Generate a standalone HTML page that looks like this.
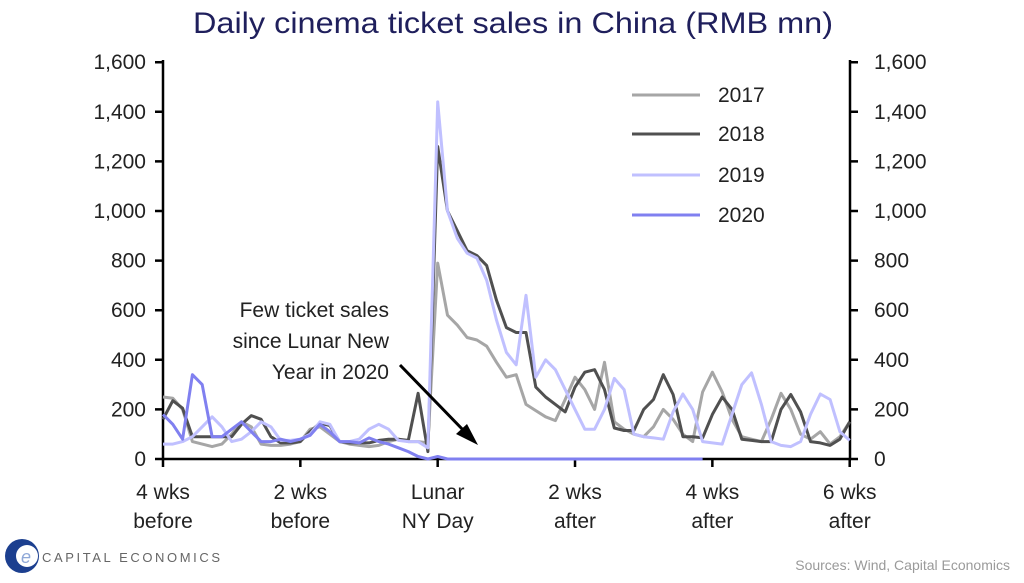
<!DOCTYPE html>
<html><head><meta charset="utf-8"><style>
body{margin:0;background:#fff;width:1024px;height:583px;overflow:hidden}
svg{display:block;font-family:"Liberation Sans",sans-serif}
</style></head><body>
<svg id="c" width="1024" height="583" viewBox="0 0 1024 583">
<text x="193" y="33" font-size="30" fill="#1f1f5c" textLength="640" lengthAdjust="spacingAndGlyphs">Daily cinema ticket sales in China (RMB mn)</text>
<g id="axes" stroke="#000" stroke-width="2.5" fill="none"></g>
<g id="lbl" font-size="21" fill="#222"></g>
<g id="ser" fill="none" stroke-width="3" stroke-linejoin="round"></g>
<g font-size="21" fill="#222">
<text x="718" y="102">2017</text><text x="718" y="141">2018</text><text x="718" y="182">2019</text><text x="718" y="222">2020</text>
</g>
<line x1="632" y1="95" x2="700" y2="95" stroke="#a6a6a6" stroke-width="3"/>
<line x1="632" y1="134" x2="700" y2="134" stroke="#505050" stroke-width="3"/>
<line x1="632" y1="175" x2="700" y2="175" stroke="#c0c0ff" stroke-width="3"/>
<line x1="632" y1="215" x2="700" y2="215" stroke="#8080f0" stroke-width="3"/>
<g font-size="21" fill="#222" text-anchor="end">
<text x="389" y="317">Few ticket sales</text><text x="389" y="348">since Lunar New</text><text x="389" y="379">Year in 2020</text>
</g>
<line x1="400" y1="365" x2="466" y2="433" stroke="#000" stroke-width="3"/>
<polygon points="478,445 456,434 467,424" fill="#000"/>
<circle cx="22" cy="556" r="17" fill="#1c3f8f"/><circle cx="27" cy="556" r="11" fill="#fff"/>
<text x="26" y="563" font-size="18" fill="#8fa8d8" text-anchor="middle" font-style="italic">e</text>
<text x="42" y="562" font-size="13" fill="#666" textLength="178" lengthAdjust="spacing">CAPITAL ECONOMICS</text>
<text x="1010" y="570" font-size="14" fill="#9a9a9a" text-anchor="end">Sources: Wind, Capital Economics</text>
</svg>
<script>
var NS="http://www.w3.org/2000/svg";
function X(d){return 163+(d+28)*9.81}
function Y(v){return 459-v*0.248}
function el(p,t,a,txt){var e=document.createElementNS(NS,t);for(var k in a)e.setAttribute(k,a[k]);if(txt!=null)e.textContent=txt;document.getElementById(p).appendChild(e);}
el("axes","path",{d:"M163,60V459H850V60"});
for(var v=0;v<=1600;v+=200){var y=Y(v);el("axes","path",{d:"M155,"+y+"H163M850,"+y+"H858"});
var s=v>=1000?(v/1000|0)+","+String(v%1000).padStart(3,"0"):String(v);
el("lbl","text",{x:146,y:y+7,"text-anchor":"end"},s);el("lbl","text",{x:874,y:y+7},s);}
var xl=[["4 wks","before"],["2 wks","before"],["Lunar","NY Day"],["2 wks","after"],["4 wks","after"],["6 wks","after"]];
for(var i=0;i<6;i++){var x=X(-28+14*i);el("axes","path",{d:"M"+x+",459V467"});
el("lbl","text",{x:x,y:499,"text-anchor":"middle"},xl[i][0]);el("lbl","text",{x:x,y:528,"text-anchor":"middle"},xl[i][1]);}
var S=[
["#a6a6a6",[250,245,200,70,60,50,60,100,150,130,60,55,55,60,70,120,130,100,70,60,55,50,55,70,80,70,70,65,
790,580,540,490,480,455,390,330,340,220,195,170,155,240,330,280,200,390,150,120,100,90,130,200,160,100,70,270,350,270,160,90,80,70,160,265,200,100,80,110,60,90,150]],
["#505050",[160,235,205,90,90,90,90,90,140,175,160,90,65,65,70,110,145,135,70,65,65,65,75,80,80,75,265,30,
1260,1000,920,840,820,780,640,530,510,510,290,250,220,190,290,350,360,280,125,115,115,200,240,340,260,90,90,85,180,250,200,80,75,70,70,200,260,190,70,65,55,80,150]],
["#c0c0ff",[60,60,70,90,130,170,130,70,80,110,150,130,75,75,80,100,150,140,70,70,80,120,140,120,75,70,70,45,
1440,1000,890,830,810,720,560,430,380,660,330,400,360,280,200,120,120,200,325,280,100,90,85,80,190,262,200,70,65,60,180,300,347,220,70,55,50,70,180,262,240,110,75]],
["#8080f0",[180,140,80,340,300,90,90,120,150,110,70,70,80,70,80,95,140,110,70,70,65,85,70,60,45,30,10,0,
10,0,0,0,0,0,0,0,0,0,0,0,0,0,0,0,0,0,0,0,0,0,0,0,0,0,0,0]]];
S.forEach(function(s){var p=s[1].map(function(v,i){return X(i-28).toFixed(1)+","+Y(v).toFixed(1)}).join(" ");
el("ser","polyline",{points:p,stroke:s[0]});});
</script>
</body></html>
